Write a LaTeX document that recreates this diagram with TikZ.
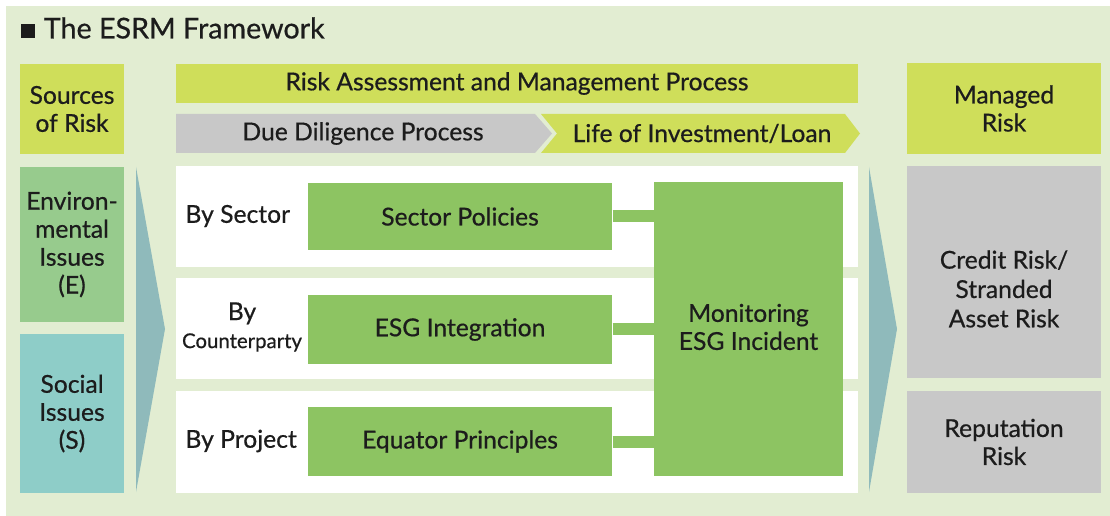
\documentclass[tikz,border=0pt]{standalone}
\usepackage{fontspec}
\setmainfont{Lato}[BoldFont=Lato, BoldFeatures={FakeBold=0.6}]
\usetikzlibrary{positioning}
\definecolor{bgGreen}{RGB}{226,237,210}
\definecolor{limeBar}{RGB}{207,222,90}
\definecolor{greyBar}{RGB}{200,200,200}
\definecolor{leafGreen}{RGB}{141,196,98}
\definecolor{envGreen}{RGB}{151,203,141}
\definecolor{socTeal}{RGB}{142,205,200}
\definecolor{arrowTeal}{RGB}{143,186,187}
\definecolor{inkDark}{RGB}{28,28,28}
\tikzset{every picture/.style={line width=0.75pt}}
\tikzset{
  sz/.style 2 args={minimum width=#1*0.75pt, minimum height=#2*0.75pt},
  cell/.style={inner sep=0pt, align=center, text=inkDark, font=\bfseries\fontsize{18.5}{21}\selectfont},
  limecell/.style={cell, fill=limeBar},
  greycell/.style={cell, fill=greyBar},
  leafcell/.style={cell, fill=leafGreen},
  panel/.style={inner sep=0pt, fill=white},
  link/.style={draw=leafGreen, line width=9pt},
  chevron/.style={fill=arrowTeal, draw=none},
}

\begin{document}
\begin{tikzpicture}[x=0.75pt,y=0.75pt,yscale=-1,xscale=1]
\useasboundingbox (0,0) rectangle (1110,516);

%Background
\fill[bgGreen] (6,6) rectangle (1110,516);

% Title
\node[cell, anchor=west, font=\bfseries\fontsize{21.5}{24}\selectfont] (title) at (20,28) {\rule{10.5pt}{10.5pt}\kern7pt The ESRM Framework};

%Left column
\node[limecell, sz={104}{90}] (sources) at (72,109) {Sources\\of Risk};
\node[cell, fill=envGreen, sz={104}{155}] (envir) at (72,244.5) {Environ-\\mental\\Issues\\(E)};
\node[cell, fill=socTeal, sz={104}{159}] (social) at (72,413.5) {Social\\Issues\\(S)};

%Shape: left arrow
\fill[chevron] (136,167) -- (165,329) -- (136,492) -- cycle;

%Process headers
\node[limecell, sz={682}{39}] (process) at (517,83.5) {Risk Assessment and Management Process};
\fill[greyBar] (176,114) -- (535,114) -- (552,133.5) -- (535,153) -- (176,153) -- cycle;
\fill[limeBar] (541,114) -- (845,114) -- (860,133.5) -- (845,153) -- (541,153) -- (557,133.5) -- cycle;
\node[cell] (duediligence) at (363,133.5) {Due Diligence Process};
\node[cell] (lifeloan) at (702,133.5) {Life of Investment/Loan};

%White rows
\node[panel, sz={682}{101}] (rowA) at (517,216.5) {};
\node[panel, sz={682}{101}] (rowB) at (517,328.5) {};
\node[panel, sz={682}{102}] (rowC) at (517,442) {};

%Policy boxes
\node[leafcell, sz={304}{67}] (sector) at (460,216.5) {Sector Policies};
\node[leafcell, sz={304}{69}] (esg) at (460,329.5) {ESG Integration};
\node[leafcell, sz={304}{69}] (equator) at (460,441.5) {Equator Principles};
\node[leafcell, sz={189}{294}] (monitor) at (748.5,329) {};
\node[cell] (monitorText) at (748.5,327) {Monitoring\\ESG Incident};

%Straight Lines
\draw[link] (sector.east) -- (sector.east -| monitor.west);
\draw[link] (esg.east) -- (esg.east -| monitor.west);
\draw[link] (equator.east) -- (equator.east -| monitor.west);

% Text Node
\node[cell, anchor=west] (bysector) at (185,216) {By Sector};
\node[cell] (bycounter) at (242,327) {By\\{\fontsize{15.3}{17}\selectfont Counterparty}};
\node[cell, anchor=west] (byproject) at (185,441) {By Project};

%Shape: right arrow
\fill[chevron] (869,167) -- (897,329) -- (869,492) -- cycle;

%Right column
\node[limecell, sz={194}{91}] (managed) at (1004,108.5) {Managed\\Risk};
\node[greycell, sz={194}{212}] (credit) at (1004,272) {};
\node[cell, font=\bfseries\fontsize{18.5}{22}\selectfont] (creditText) at (1004,289) {Credit Risk/\\Stranded\\Asset Risk};
\node[greycell, sz={194}{102}] (reputation) at (1004,442) {Reputation\\Risk};

\end{tikzpicture}
\end{document}
